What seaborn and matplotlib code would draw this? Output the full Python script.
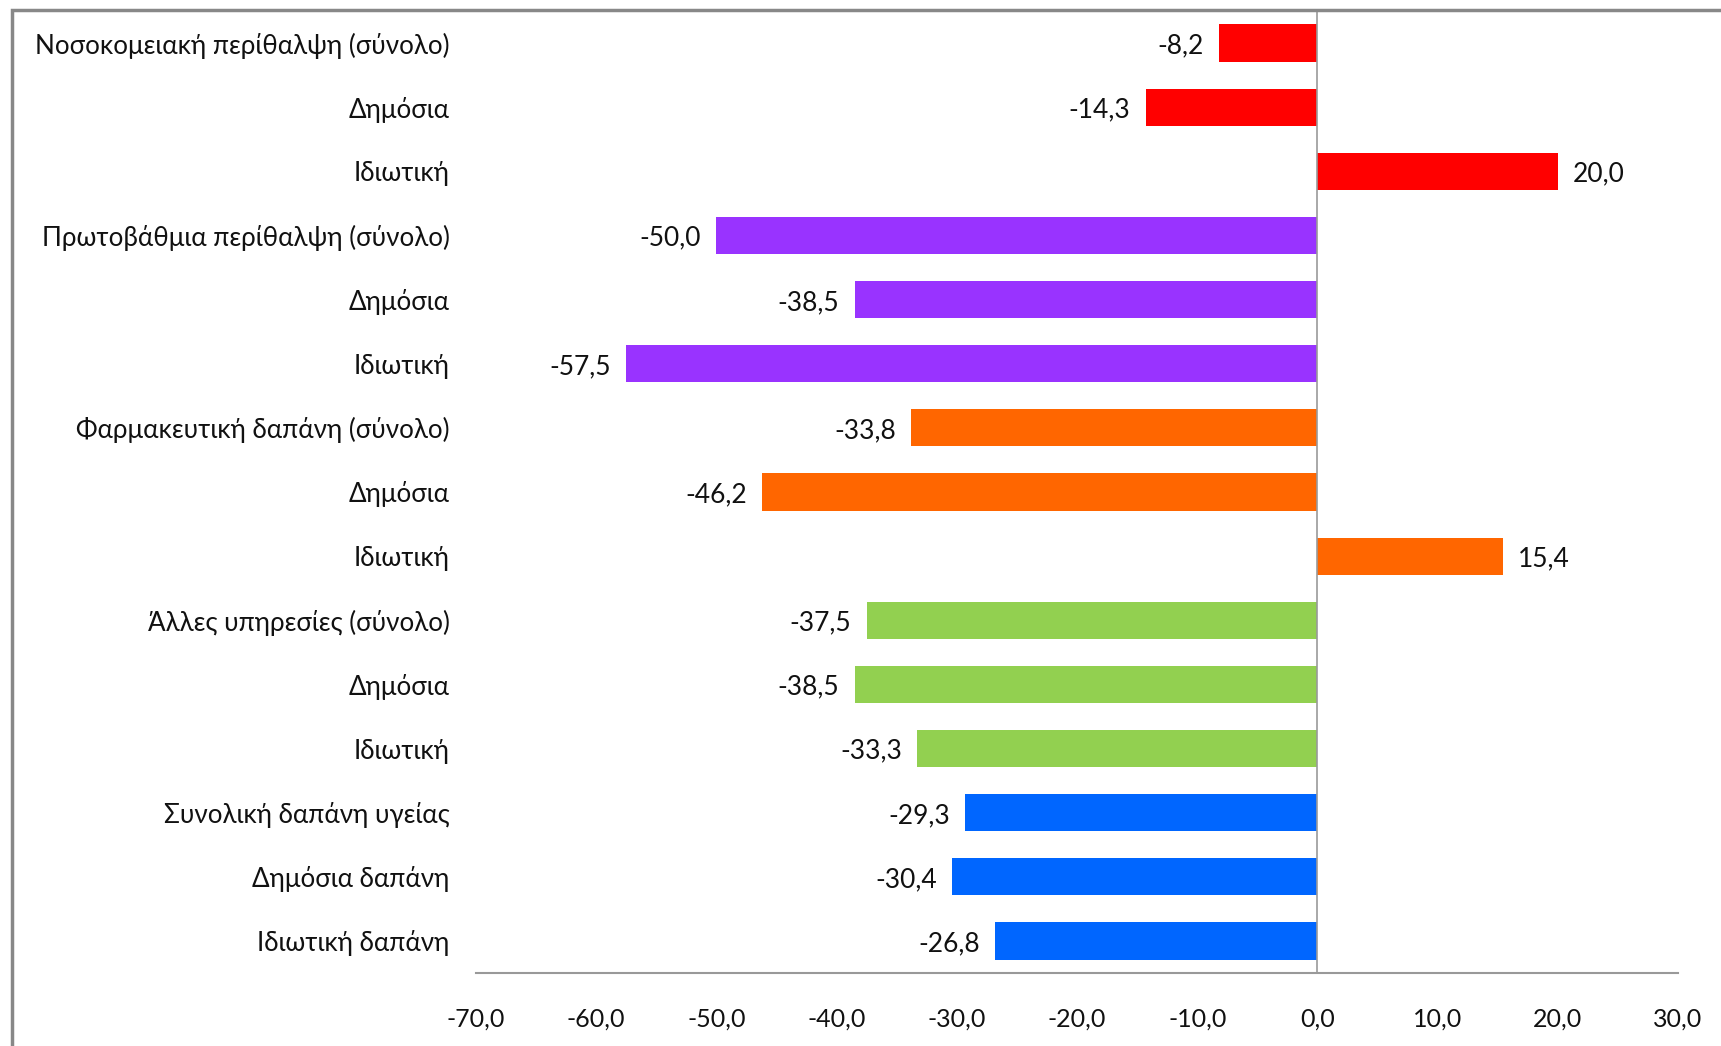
import matplotlib
matplotlib.use("Agg")
import matplotlib.pyplot as plt
import matplotlib.patches as mpatches
import seaborn as sns
import pandas as pd

labels = [
    "Νοσοκομειακή περίθαλψη (σύνολο)", "Δημόσια", "Ιδιωτική",
    "Πρωτοβάθμια περίθαλψη (σύνολο)", "Δημόσια", "Ιδιωτική",
    "Φαρμακευτική δαπάνη (σύνολο)", "Δημόσια", "Ιδιωτική",
    "Άλλες υπηρεσίες (σύνολο)", "Δημόσια", "Ιδιωτική",
    "Συνολική δαπάνη υγείας", "Δημόσια δαπάνη", "Ιδιωτική δαπάνη",
]
values = [-8.2, -14.3, 20.0, -50.0, -38.5, -57.5, -33.8, -46.2, 15.4,
          -37.5, -38.5, -33.3, -29.3, -30.4, -26.8]
groups = ["hosp"] * 3 + ["prim"] * 3 + ["pharm"] * 3 + ["other"] * 3 + ["total"] * 3
palette = {"hosp": "#FF0000", "prim": "#9933FF", "pharm": "#FF6600",
           "other": "#92D050", "total": "#0066FF"}
x_ticks = [-70, -60, -50, -40, -30, -20, -10, 0, 10, 20, 30]

FONT = ["Lato", "DejaVu Sans"]
plt.rcParams["font.family"] = FONT

df = pd.DataFrame({
    "pos": [str(i) for i in range(len(labels))],
    "value": values,
    "group": groups,
})

fig = plt.figure(figsize=(17.21, 10.46), dpi=100)
ax = fig.add_axes([476 / 1721, 1 - 973 / 1046, (1678 - 476) / 1721, (973 - 11) / 1046])

sns.barplot(data=df, x="value", y="pos", hue="group", palette=palette,
            order=df["pos"].tolist(), dodge=False, width=0.58,
            saturation=1, legend=False, ax=ax, edgecolor="none")

ax.set_xlim(-70, 30)
ax.set_ylim(len(labels) - 0.5, -0.5)
ax.set_xticks(x_ticks)
ax.set_xticklabels([f"{t:.1f}".replace(".", ",") for t in x_ticks],
                   fontsize=18, color="#111111")
ax.set_yticks(range(len(labels)))
ax.set_yticklabels(labels, fontsize=18.7, color="#111111")
ax.tick_params(axis="x", length=0, pad=25)
ax.tick_params(axis="y", length=0, pad=19)
ax.set_xlabel("")
ax.set_ylabel("")

for side in ["top", "right", "left"]:
    ax.spines[side].set_visible(False)
ax.spines["bottom"].set_color("#999999")
ax.spines["bottom"].set_linewidth(1.5)
ax.axvline(0, color="#999999", linewidth=1.2, zorder=3)

for i, v in enumerate(values):
    txt = f"{v:.1f}".replace(".", ",")
    if v < 0:
        ax.annotate(txt, (v, i), xytext=(-11, -2), textcoords="offset points",
                    ha="right", va="center", fontsize=19, color="#111111")
    else:
        ax.annotate(txt, (v, i), xytext=(11, -2), textcoords="offset points",
                    ha="left", va="center", fontsize=19, color="#111111")

# outer frame of the chart area (top and left edges visible)
frame = mpatches.Rectangle((12 / 1721, -0.1), 1.2, 1 - 10 / 1046 + 0.1,
                           transform=fig.transFigure, fill=False,
                           edgecolor="#888888", linewidth=2.5, zorder=0)
fig.patches.append(frame)

fig.savefig("out.png", dpi=100, facecolor="white")
